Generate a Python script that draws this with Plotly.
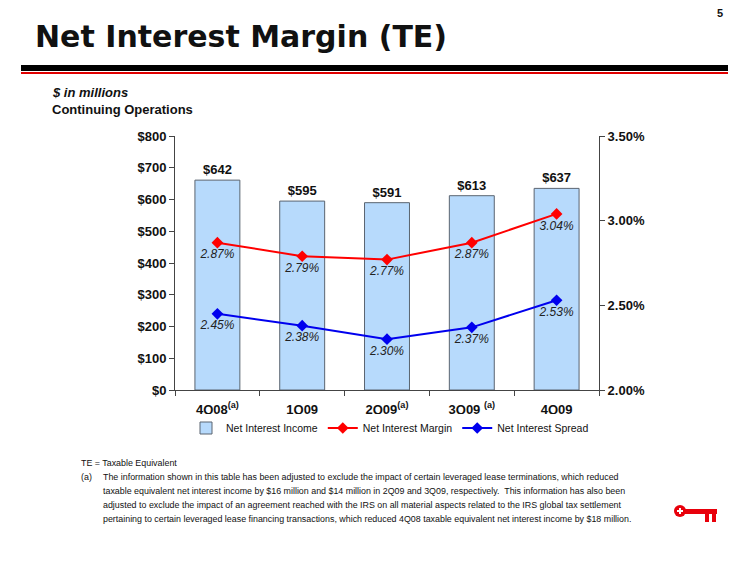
import plotly.graph_objects as go

# ---- data ----
quarters = ["4Q08<sup>(a)</sup>", "1Q09", "2Q09<sup>(a)</sup>", "3Q09 <sup>(a)</sup>", "4Q09"]
nii_bar = [661, 595, 590, 612, 635]
nii_labels = ["$642", "$595", "$591", "$613", "$637"]
margin = [2.87, 2.79, 2.77, 2.87, 3.04]
spread = [2.45, 2.38, 2.30, 2.37, 2.53]
left_ticks = [0, 100, 200, 300, 400, 500, 600, 700, 800]
left_ticktext = ["$0", "$100", "$200", "$300", "$400", "$500", "$600", "$700", "$800"]
right_ticks = [2.0, 2.5, 3.0, 3.5]
right_ticktext = ["2.00%", "2.50%", "3.00%", "3.50%"]

footnote_lines = [
    "The information shown in this table has been adjusted to exclude the impact of certain leveraged lease terminations, which reduced",
    "taxable equivalent net interest income by $16 million and $14 million in 2Q09 and 3Q09, respectively.  This information has also been",
    "adjusted to exclude the impact of an agreement reached with the IRS on all material aspects related to the IRS global tax settlement",
    "pertaining to certain leveraged lease financing transactions, which reduced 4Q08 taxable equivalent net interest income by $18 million.",
]

# page coordinates (reference pixels); the browser adds an 8px body margin
W, H = 750, 563
OFF = 8
L, R, T, B = 175, 599, 136, 390


def px(x):
    return (x - L) / (R - L)


def py(y):
    return (B - y) / (B - T)


FONT = "Liberation Sans, Arial, sans-serif"

fig = go.Figure()
fig.add_trace(go.Bar(
    x=quarters, y=nii_bar, name="Net Interest Income",
    marker=dict(color="#B7DAFC", line=dict(color="#5A6470", width=1)),
    width=0.53,
    text=nii_labels, textposition="outside",
    textfont=dict(family=FONT, size=13, color="#111", weight="bold"),
    cliponaxis=False,
))
fig.add_trace(go.Scatter(
    x=quarters, y=margin, name="Net Interest Margin", yaxis="y2",
    mode="lines+markers+text",
    line=dict(color="#FF0000", width=2),
    marker=dict(symbol="diamond", size=9, color="#FF0000"),
    text=[f"{v:.2f}%" for v in margin], textposition="bottom center",
    textfont=dict(family=FONT, size=12, color="#222", style="italic"),
    cliponaxis=False,
))
fig.add_trace(go.Scatter(
    x=quarters, y=spread, name="Net Interest Spread", yaxis="y2",
    mode="lines+markers+text",
    line=dict(color="#0000EE", width=2),
    marker=dict(symbol="diamond", size=9, color="#0000EE"),
    text=[f"{v:.2f}%" for v in spread], textposition="bottom center",
    textfont=dict(family=FONT, size=12, color="#222", style="italic"),
    cliponaxis=False,
))

axis_col = "#444"
fig.update_layout(
    width=W - OFF, height=H - OFF,
    margin=dict(l=L - OFF, r=W - R, t=T - OFF, b=H - B, pad=0, autoexpand=False),
    paper_bgcolor="white", plot_bgcolor="white",
    font=dict(family=FONT, color="#111"),
    showlegend=True,
    legend=dict(orientation="h", x=px(390), xanchor="center",
                y=py(428), yanchor="middle",
                font=dict(family=FONT, size=10.5, color="#111"), traceorder="normal",
                itemwidth=30, tracegroupgap=0),
    xaxis=dict(showline=True, linecolor=axis_col, linewidth=1, ticks="outside",
               tickson="boundaries", ticklen=5, tickcolor=axis_col, ticklabelstandoff=7,
               tickfont=dict(family=FONT, size=13, color="#111", weight="bold"),
               showgrid=False, zeroline=False, fixedrange=True),
    yaxis=dict(range=[0, 800], tickmode="array", tickvals=left_ticks, ticktext=left_ticktext,
               showline=True, linecolor=axis_col, linewidth=1, ticks="outside",
               ticklen=5, tickcolor=axis_col, showgrid=False, zeroline=False,
               tickfont=dict(family=FONT, size=13, color="#111", weight="bold")),
    yaxis2=dict(range=[2.0, 3.5], tickmode="array", tickvals=right_ticks, ticktext=right_ticktext,
                overlaying="y", side="right",
                showline=True, linecolor=axis_col, linewidth=1, ticks="outside",
                ticklen=5, tickcolor=axis_col, showgrid=False, zeroline=False,
                tickfont=dict(family=FONT, size=13, color="#111", weight="bold")),
    bargap=0.47,
)

ann = []


def add_text(x, y, text, size, bold=False, italic=False, anchor="left", family=FONT, color="#111"):
    t = text
    if bold:
        t = f"<b>{t}</b>"
    if italic:
        t = f"<i>{t}</i>"
    ann.append(dict(x=px(x), y=py(y), xref="paper", yref="paper", text=t, showarrow=False,
                    xanchor=anchor, yanchor="middle", align="left",
                    font=dict(family=family, size=size, color=color)))


add_text(33, 36, "Net Interest Margin (TE)", 30, bold=True, family="DejaVu Sans, Verdana, sans-serif")
add_text(720, 13, "5", 11, bold=True, anchor="center")
add_text(50, 92, "$ in millions", 13, bold=True, italic=True)
add_text(50, 110, "Continuing Operations", 13, bold=True)
add_text(79, 463, "TE = Taxable Equivalent", 8.9)
add_text(79, 477, "(a)", 8.9)
for i, line in enumerate(footnote_lines):
    add_text(101, 477 + i * 14, line, 8.9)

fig.update_layout(annotations=ann)

shapes = []


def rect(x0, y0, x1, y1, color):
    shapes.append(dict(type="rect", xref="paper", yref="paper",
                       x0=px(x0), x1=px(x1), y0=py(y1), y1=py(y0),
                       fillcolor=color, line=dict(width=0), layer="above"))


# header rules
rect(21, 65, 728, 71, "#000000")
rect(21, 72, 728, 74, "#E00000")

# key logo
shapes.append(dict(type="circle", xref="paper", yref="paper",
                   x0=px(674), x1=px(686), y0=py(517), y1=py(505),
                   fillcolor="#E8000B", line=dict(width=0), layer="above"))
rect(677, 510, 683, 512, "white")
rect(679, 508, 681, 514, "white")
rect(685, 509, 717, 514, "#E8000B")
rect(705, 514, 709, 522, "#E8000B")
rect(712, 514, 716, 522, "#E8000B")

fig.update_layout(shapes=shapes)

fig.write_html("out.html")
